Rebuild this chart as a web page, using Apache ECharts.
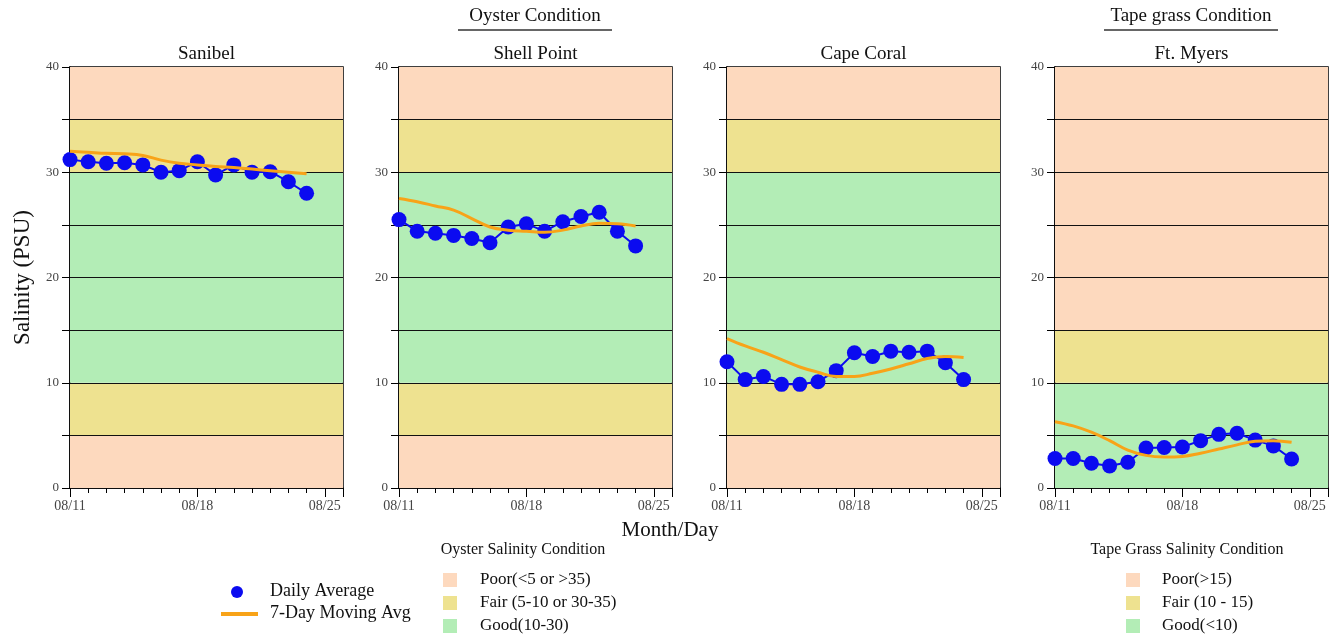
<!DOCTYPE html>
<html>
<head>
<meta charset="utf-8">
<script src="https://cdn.jsdelivr.net/npm/echarts@6/dist/echarts.min.js"></script>
<style>html,body{margin:0;padding:0;background:#fff}#c{width:1338px;height:641px}</style>
</head>
<body>
<div id="c"></div>
<script>
// ---- data ----
const dates = ['08/11','08/12','08/13','08/14','08/15','08/16','08/17','08/18','08/19','08/20','08/21','08/22','08/23','08/24'];
const xTickLabels = ['08/11','08/18','08/25'];
const stations = ['Sanibel','Shell Point','Cape Coral','Ft. Myers'];
const sanibelDaily = [31.2, 31.0, 30.85, 30.9, 30.7, 30.0, 30.15, 31.0, 29.75, 30.7, 30.0, 30.05, 29.1, 28.0];
const sanibelMA    = [32.0, 31.9, 31.8, 31.75, 31.6, 31.15, 30.85, 30.7, 30.55, 30.45, 30.3, 30.15, 30.0, 29.85];
const shellDaily   = [25.5, 24.4, 24.2, 24.0, 23.7, 23.3, 24.8, 25.1, 24.4, 25.3, 25.8, 26.2, 24.4, 23.0];
const shellMA      = [27.5, 27.2, 26.8, 26.4, 25.6, 24.8, 24.5, 24.4, 24.3, 24.5, 24.9, 25.15, 25.1, 24.9];
const capeDaily    = [12.0, 10.3, 10.6, 9.85, 9.85, 10.1, 11.15, 12.85, 12.5, 13.0, 12.9, 13.0, 11.9, 10.3];
const capeMA       = [14.2, 13.5, 12.9, 12.2, 11.5, 11.0, 10.6, 10.6, 10.9, 11.3, 11.8, 12.3, 12.5, 12.4];
const ftmDaily     = [2.8, 2.8, 2.35, 2.1, 2.45, 3.8, 3.85, 3.9, 4.5, 5.1, 5.2, 4.55, 4.0, 2.75];
const ftmMA        = [6.3, 5.9, 5.3, 4.5, 3.6, 3.1, 2.95, 3.0, 3.3, 3.7, 4.1, 4.45, 4.5, 4.35];
const dailySeries = [sanibelDaily, shellDaily, capeDaily, ftmDaily];
const maSeries = [sanibelMA, shellMA, capeMA, ftmMA];
// band definitions [from, to, condition]
const oysterBands = [[0,5,'poor'],[5,10,'fair'],[10,30,'good'],[30,35,'fair'],[35,40,'poor']];
const tapeBands = [[0,10,'good'],[10,15,'fair'],[15,40,'poor']];
const bandSets = [oysterBands, oysterBands, oysterBands, tapeBands];
const oysterLegend = ['Poor(<5 or >35)','Fair (5-10 or 30-35)','Good(10-30)'];
const tapeLegend = ['Poor(>15)','Fair (10 - 15)','Good(<10)'];
const gridLines = [5,10,15,20,25,30,35];

// ---- style ----
const COL = {poor:'#FDD9BE', fair:'#EEE290', good:'#B3EDB6'};
const FONT = '"Liberation Serif","Times New Roman",serif';
const lefts = [70, 399, 727, 1055];
const W = 273, TOP = 67, H = 421;

const grids = [], xAxes = [], yAxes = [], series = [], graphics = [];
lefts.forEach((l, g) => {
  grids.push({left: l, top: TOP, width: W, height: H, show: true, borderColor: '#000', borderWidth: 1.5, backgroundColor: 'transparent'});
  xAxes.push({
    type: 'value', gridIndex: g, min: 0, max: 15, interval: 1, position: 'bottom',
    axisLine: {show: true, lineStyle: {color: '#000', width: 1.5}},
    axisTick: {show: true, length: 5, lineStyle: {color: '#000'}},
    axisLabel: {show: true, margin: 11, fontFamily: FONT, fontSize: 14, color: '#444',
      formatter: v => (v % 7 === 0 && v / 7 < xTickLabels.length) ? xTickLabels[v / 7] : ''},
    splitLine: {show: false}
  });
  xAxes.push({
    type: 'value', gridIndex: g, min: 0, max: 15, interval: 7, position: 'bottom',
    axisLine: {show: false}, axisLabel: {show: false}, splitLine: {show: false},
    axisTick: {show: true, length: 9, lineStyle: {color: '#000'}}
  });
  yAxes.push({
    type: 'value', gridIndex: g, min: 0, max: 40, interval: 10,
    axisLine: {show: true, lineStyle: {color: '#000', width: 1.5}},
    axisTick: {show: true, length: 8, lineStyle: {color: '#000'}},
    minorTick: {show: true, splitNumber: 2, length: 8, lineStyle: {color: '#000'}},
    axisLabel: {margin: 11, fontFamily: FONT, fontSize: 13, color: '#444'},
    splitLine: {show: false},
    name: g === 0 ? 'Salinity (PSU)' : '', nameLocation: 'middle', nameGap: 36,
    nameTextStyle: {fontFamily: FONT, fontSize: 23, color: '#111'}
  });
  series.push({
    name: 'Daily Average', type: 'line', xAxisIndex: 2 * g, yAxisIndex: g, z: 2,
    data: dailySeries[g].map((v, i) => [i, v]),
    symbol: 'circle', symbolSize: 15, showSymbol: true,
    itemStyle: {color: '#0b0bf0'}, lineStyle: {color: '#0b0bf0', width: 2},
    markArea: {silent: true, z: 1, data: bandSets[g].map(b => [{yAxis: b[0], itemStyle: {color: COL[b[2]], opacity: 1}}, {yAxis: b[1]}])},
    markLine: {silent: true, z: 1.5, symbol: ['none', 'none'], label: {show: false},
      lineStyle: {color: '#111', width: 1.2, type: 'solid'},
      data: gridLines.map(y => ({yAxis: y}))},
    animation: false
  });
  series.push({
    name: '7-Day Moving Avg', type: 'line', xAxisIndex: 2 * g, yAxisIndex: g, z: 3,
    data: maSeries[g].map((v, i) => [i, v]), smooth: 0.4, showSymbol: false, symbol: 'none',
    lineStyle: {color: '#F8A318', width: 3}, animation: false
  });
  graphics.push({type: 'text', x: l + W / 2, y: 45, style: {text: stations[g], font: '19px ' + FONT, fill: '#111', textAlign: 'center'}});
});

// headers
function header(text, cx, half) {
  graphics.push({type: 'text', x: cx, y: 7, style: {text: text, font: '19px ' + FONT, fill: '#111', textAlign: 'center'}});
  graphics.push({type: 'line', shape: {x1: cx - half, y1: 30, x2: cx + half, y2: 30}, style: {stroke: '#333', lineWidth: 1.5}});
}
header('Oyster Condition', 535, 77);
header('Tape grass Condition', 1191, 87);
graphics.push({type: 'text', x: 670, y: 520, style: {text: 'Month/Day', font: '21px ' + FONT, fill: '#111', textAlign: 'center'}});

// series legend
graphics.push({type: 'circle', shape: {cx: 237, cy: 592, r: 6}, style: {fill: '#0b0bf0'}});
graphics.push({type: 'text', x: 270, y: 582, style: {text: 'Daily Average', font: '18px ' + FONT, fill: '#111'}});
graphics.push({type: 'line', shape: {x1: 221, y1: 614, x2: 258, y2: 614}, style: {stroke: '#F8A318', lineWidth: 4}});
graphics.push({type: 'text', x: 270, y: 604, style: {text: '7-Day Moving Avg', font: '18px ' + FONT, fill: '#111'}});

// band legends
function bandLegend(title, tcx, sqx, txx, labels) {
  graphics.push({type: 'text', x: tcx, y: 542, style: {text: title, font: '16px ' + FONT, fill: '#111', textAlign: 'center'}});
  ['poor', 'fair', 'good'].forEach((k, i) => {
    const cy = 580 + i * 23;
    graphics.push({type: 'rect', shape: {x: sqx, y: cy - 7, width: 14, height: 14}, style: {fill: COL[k]}});
    graphics.push({type: 'text', x: txx, y: cy - 9, style: {text: labels[i], font: '17px ' + FONT, fill: '#111'}});
  });
}
bandLegend('Oyster Salinity Condition', 523, 443, 480, oysterLegend);
bandLegend('Tape Grass Salinity Condition', 1187, 1126, 1162, tapeLegend);

const chart = echarts.init(document.getElementById('c'));
chart.setOption({
  animation: false,
  grid: grids, xAxis: xAxes, yAxis: yAxes, series: series,
  graphic: graphics
});
</script>
</body>
</html>
